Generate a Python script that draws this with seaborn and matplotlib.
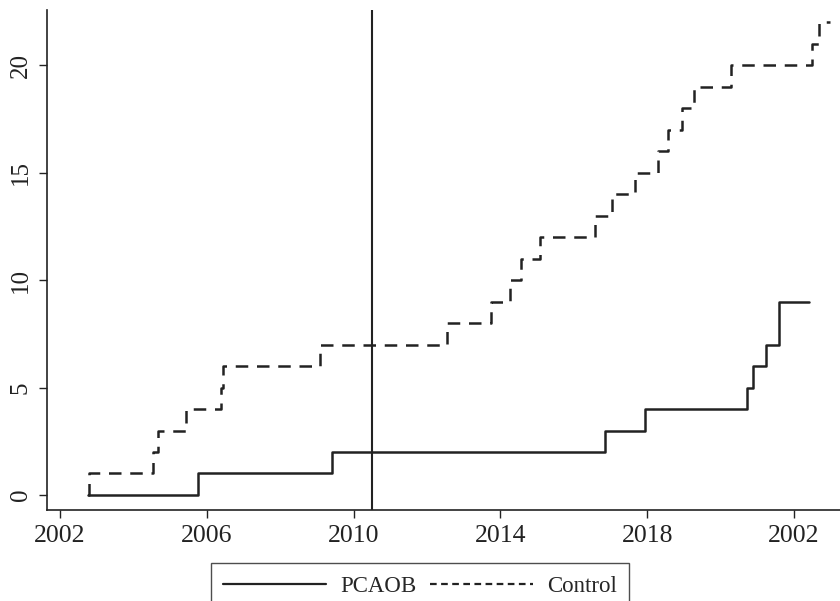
import numpy as np
import pandas as pd
import matplotlib
matplotlib.use("Agg")
import matplotlib.pyplot as plt
import seaborn as sns
from matplotlib.lines import Line2D

# ---- data ----
pcaob_x = [2002.76, 2005.76, 2009.41, 2016.85, 2017.94, 2020.72, 2020.88, 2021.23, 2021.59, 2022.41]
pcaob_y = [0, 1, 2, 3, 4, 5, 6, 7, 9, 9]

control_x = [2002.76, 2002.80, 2004.53, 2004.68, 2005.43, 2006.38, 2006.45, 2009.08, 2012.54,
             2013.74, 2014.26, 2014.55, 2015.08, 2016.58, 2017.04, 2017.66, 2018.30,
             2018.57, 2018.95, 2019.28, 2020.28, 2022.49, 2022.68, 2022.98]
control_y = [0, 1, 2, 3, 4, 5, 6, 7, 8,
             9, 10, 11, 12, 13, 14, 15, 16,
             17, 18, 19, 20, 21, 22, 22]

x_ticks = [2002, 2006, 2010, 2014, 2018, 2022]
x_tick_labels = ["2002", "2006", "2010", "2014", "2018", "2002"]
y_ticks = [0, 5, 10, 15, 20]
event_year = 2010.5
series_names = ["PCAOB", "Control"]

# ---- style ----
sns.set_style("ticks")
plt.rcParams["font.family"] = ["Liberation Serif", "DejaVu Serif"]
ink = "#222222"

fig = plt.figure(figsize=(8.4, 6.01), dpi=100)
ax = fig.add_axes([0.056, 0.1514, 0.944, 0.8316])

df_p = pd.DataFrame({"year": pcaob_x, "count": pcaob_y})
df_c = pd.DataFrame({"year": control_x, "count": control_y})

lw = 1.8
sns.lineplot(data=df_p, x="year", y="count", ax=ax, color=ink, lw=lw,
             drawstyle="steps-post", estimator=None, sort=False)
sns.lineplot(data=df_c, x="year", y="count", ax=ax, color=ink, lw=lw,
             drawstyle="steps-post", estimator=None, sort=False,
             dashes=False, linestyle=(0, (5, 3.5)))

ax.axvline(event_year, color=ink, lw=1.5)

ax.set_xlim(2001.65, 2023.25)
ax.set_ylim(-0.7, 22.56)
ax.set_xticks(x_ticks)
ax.set_xticklabels(x_tick_labels, fontsize=18.5, color=ink)
ax.set_yticks(y_ticks)
ax.set_yticklabels([str(v) for v in y_ticks], fontsize=18, color=ink,
                   rotation=90, va="center")
ax.set_xlabel("")
ax.set_ylabel("")
ax.tick_params(axis="both", length=6, width=1.0, color=ink, pad=5)

sns.despine(ax=ax, top=True, right=True)
for s in ["left", "bottom"]:
    ax.spines[s].set_color(ink)
    ax.spines[s].set_linewidth(1.2)

handles = [Line2D([], [], color=ink, lw=1.6),
           Line2D([], [], color=ink, lw=1.6, linestyle=(0, (3, 2)))]
leg = fig.legend(handles, series_names, loc="upper center",
                 bbox_to_anchor=(0.5, 0.0632), borderaxespad=0, ncol=2,
                 frameon=True, fancybox=False, fontsize=16.5, handlelength=4.5,
                 columnspacing=0.6, handletextpad=0.6, borderpad=0.55)
leg.get_frame().set_edgecolor(ink)
leg.get_frame().set_linewidth(1.0)

fig.savefig("out.png", dpi=100)
